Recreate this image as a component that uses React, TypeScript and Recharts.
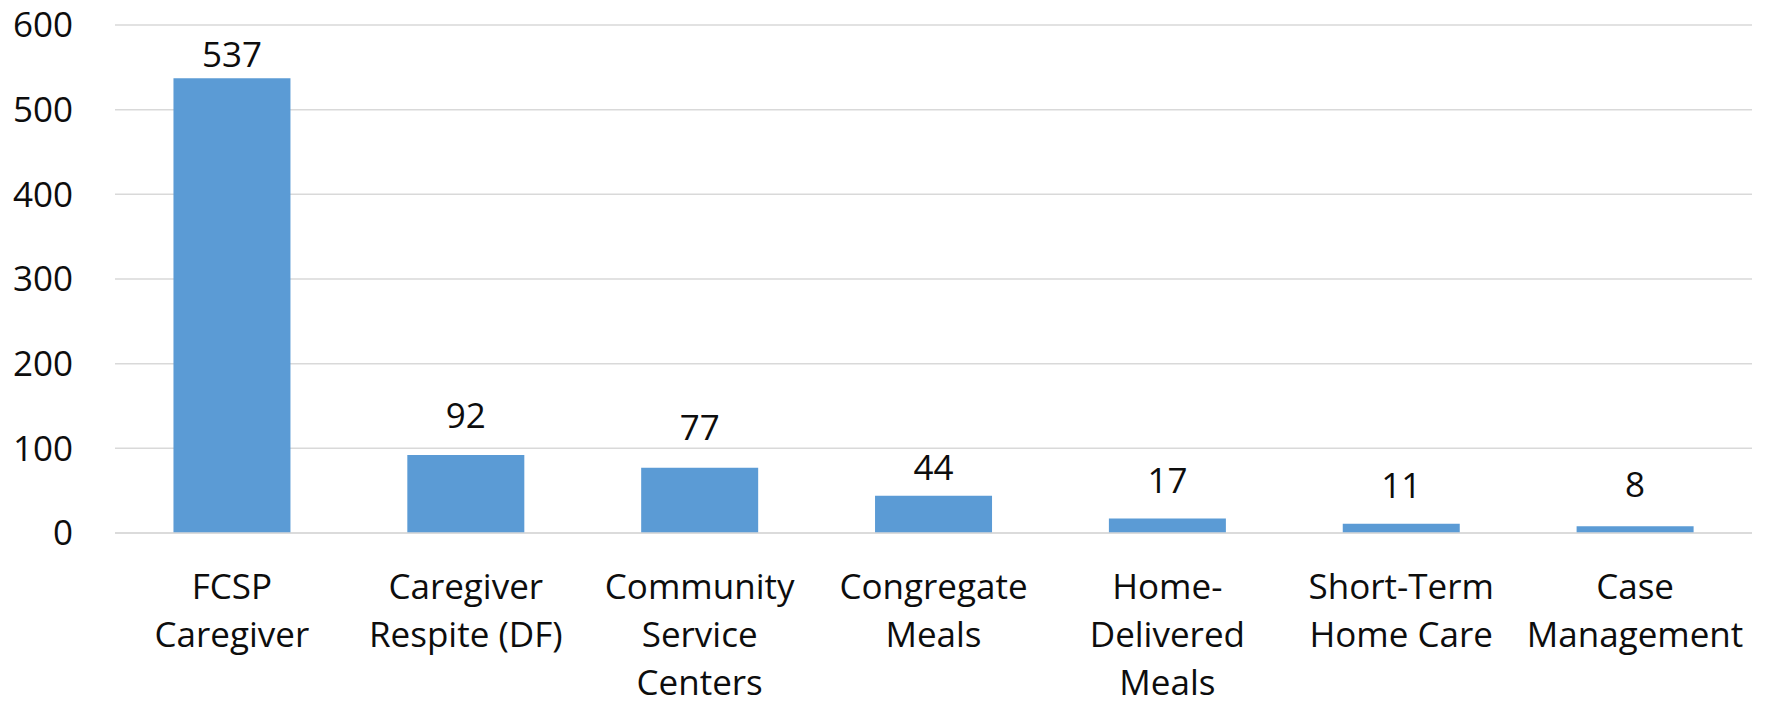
import { BarChart, Bar, XAxis, YAxis, CartesianGrid, LabelList } from "recharts";

const categories = [
  "FCSP\nCaregiver",
  "Caregiver\nRespite (DF)",
  "Community\nService\nCenters",
  "Congregate\nMeals",
  "Home-\nDelivered\nMeals",
  "Short-Term\nHome Care",
  "Case\nManagement",
];
const counts = [537, 92, 77, 44, 17, 11, 8];
const yTicks = [0, 100, 200, 300, 400, 500, 600];

// gap (px) between bar top and its value label, as placed in the original
const labelGaps = [11, 27, 28, 16, 26, 26, 29];

const FONT = "'Open Sans', sans-serif";
const FONT_SIZE = 35;
const TEXT = "#0d0d0d";

const data = categories.map((name, i) => ({ name, value: counts[i] }));

function CategoryTick(props: any) {
  const { x, y, payload } = props;
  const lines = String(payload.value).split("\n");
  return (
    <text
      x={x}
      y={y}
      textAnchor="middle"
      fontFamily={FONT}
      fontSize={FONT_SIZE}
      fill={TEXT}
    >
      {lines.map((line, i) => (
        <tspan key={i} x={x} dy={i === 0 ? 66 : 48}>
          {line}
        </tspan>
      ))}
    </text>
  );
}

function ValueLabel(props: any) {
  const { x, y, width, value, index } = props;
  return (
    <text
      x={x + width / 2}
      y={y - labelGaps[index]}
      textAnchor="middle"
      fontFamily={FONT}
      fontSize={FONT_SIZE}
      fill={TEXT}
    >
      {value}
    </text>
  );
}

export default function App() {
  return (
    <div style={{ position: "absolute", left: 0, top: 0, background: "#fff" }}>
      <BarChart
        width={1767}
        height={705}
        data={data}
        margin={{ top: 25, right: 15, left: 0, bottom: 0 }}
        barCategoryGap="25%"
      >
        <CartesianGrid vertical={false} stroke="#d9d9d9" strokeWidth={1.5} />
        <XAxis
          dataKey="name"
          height={172}
          interval={0}
          tickLine={false}
          tickSize={0}
          tickMargin={0}
          axisLine={{ stroke: "#d9d9d9", strokeWidth: 1.5 }}
          tick={<CategoryTick />}
        />
        <YAxis
          width={115}
          domain={[0, 600]}
          ticks={yTicks}
          interval={0}
          axisLine={false}
          tickLine={false}
          tickSize={0}
          tickMargin={42}
          tick={{ fontFamily: FONT, fontSize: FONT_SIZE, fill: TEXT }}
        />
        <Bar dataKey="value" fill="#5b9bd5" isAnimationActive={false}>
          <LabelList dataKey="value" content={<ValueLabel />} />
        </Bar>
      </BarChart>
    </div>
  );
}
